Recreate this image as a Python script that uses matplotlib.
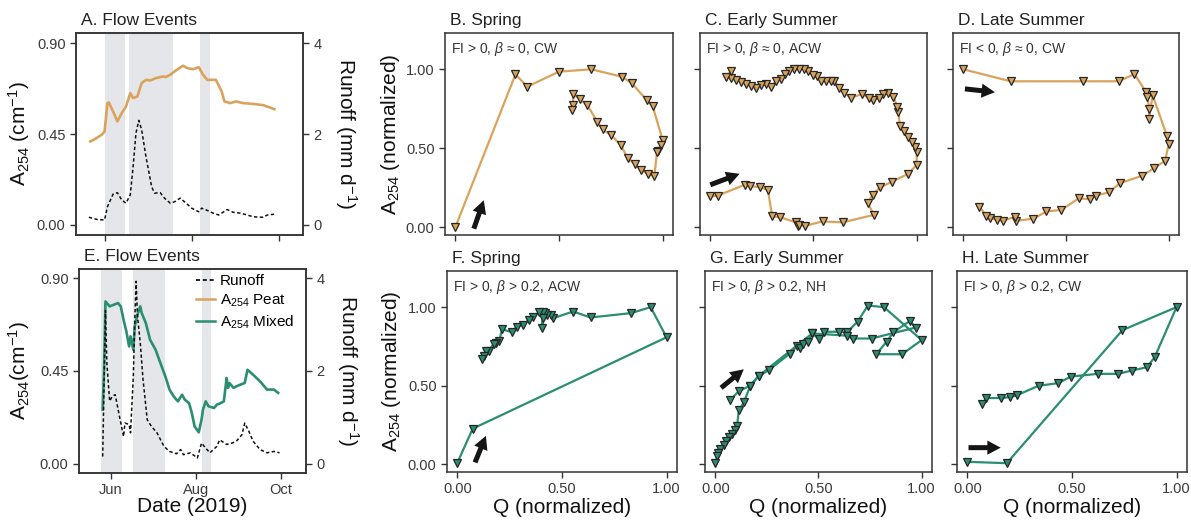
import matplotlib
matplotlib.use('Agg')
import matplotlib.pyplot as plt
import matplotlib.dates as mdates
from matplotlib.lines import Line2D
import pandas as pd

plt.rcParams['font.family'] = ['Liberation Sans', 'DejaVu Sans']
plt.rcParams['mathtext.fontset'] = 'custom'
plt.rcParams['mathtext.rm'] = 'Liberation Sans'
plt.rcParams['mathtext.it'] = 'Liberation Sans:italic'
plt.rcParams['mathtext.bf'] = 'Liberation Sans:bold'

PEAT = '#d9a35c'
MIXED = '#2a8e71'
SHADE = '#e4e6e9'
INK = '#333333'

# ---------------- Panel A (peat site) ----------------
a_peat_dates = ["2019-05-22", "2019-05-25", "2019-05-27", "2019-05-30", "2019-06-01", "2019-06-03",
                "2019-06-04", "2019-06-07", "2019-06-10", "2019-06-13", "2019-06-16", "2019-06-19",
                "2019-06-21", "2019-06-24", "2019-06-27", "2019-06-30", "2019-07-03", "2019-07-07",
                "2019-07-12", "2019-07-14", "2019-07-17", "2019-07-20", "2019-07-26", "2019-07-29",
                "2019-08-02", "2019-08-06", "2019-08-09", "2019-08-12", "2019-08-18", "2019-08-22",
                "2019-08-24", "2019-08-28", "2019-09-01", "2019-09-06", "2019-09-13", "2019-09-20",
                "2019-09-28"]
a_peat_vals = [0.413, 0.424, 0.433, 0.446, 0.462, 0.603, 0.606, 0.561, 0.512, 0.553, 0.586, 0.652,
               0.628, 0.636, 0.702, 0.718, 0.715, 0.727, 0.735, 0.732, 0.743, 0.760, 0.788, 0.776,
               0.771, 0.781, 0.743, 0.718, 0.718, 0.661, 0.611, 0.603, 0.611, 0.603, 0.599, 0.593,
               0.573]
a_runoff_dates = ["2019-05-21", "2019-05-27", "2019-06-01", "2019-06-03", "2019-06-07", "2019-06-10",
                  "2019-06-13", "2019-06-16", "2019-06-19", "2019-06-21", "2019-06-23", "2019-06-25",
                  "2019-06-27", "2019-06-30", "2019-07-04", "2019-07-06", "2019-07-10", "2019-07-13",
                  "2019-07-17", "2019-07-20", "2019-07-24", "2019-07-27", "2019-08-01", "2019-08-06",
                  "2019-08-08", "2019-08-12", "2019-08-16", "2019-08-20", "2019-08-26", "2019-08-30",
                  "2019-09-04", "2019-09-09", "2019-09-13", "2019-09-20", "2019-09-23", "2019-09-29"]
a_runoff_vals = [0.17, 0.12, 0.11, 0.40, 0.68, 0.71, 0.55, 0.48, 0.66, 1.28, 2.02, 2.30,
                 2.09, 1.50, 0.84, 0.70, 0.71, 0.59, 0.48, 0.51, 0.59, 0.51, 0.37, 0.29,
                 0.37, 0.32, 0.26, 0.22, 0.34, 0.28, 0.26, 0.22, 0.18, 0.17, 0.22, 0.24]
a_events = [("2019-06-01", "2019-06-15"), ("2019-06-18", "2019-07-19"), ("2019-08-07", "2019-08-14")]

# ---------------- Panel E (mixed site) ----------------
e_mixed_dates = ["2019-05-26", "2019-05-27", "2019-05-28", "2019-05-30", "2019-05-31", "2019-06-03",
                 "2019-06-06", "2019-06-08", "2019-06-10", "2019-06-12", "2019-06-14", "2019-06-15",
                 "2019-06-17", "2019-06-18", "2019-06-20", "2019-06-22", "2019-06-23", "2019-06-26",
                 "2019-06-29", "2019-07-03", "2019-07-06", "2019-07-10", "2019-07-13", "2019-07-16",
                 "2019-07-19", "2019-07-22", "2019-07-24", "2019-07-27", "2019-07-29", "2019-07-31",
                 "2019-08-03", "2019-08-05", "2019-08-06", "2019-08-08", "2019-08-10", "2019-08-14",
                 "2019-08-16", "2019-08-18", "2019-08-21", "2019-08-23", "2019-08-24", "2019-08-25",
                 "2019-08-28", "2019-08-30", "2019-09-02", "2019-09-05", "2019-09-07", "2019-09-11",
                 "2019-09-16", "2019-09-21", "2019-09-26", "2019-09-29"]
e_mixed_vals = [0.263, 0.456, 0.787, 0.771, 0.763, 0.771, 0.779, 0.763, 0.698, 0.642, 0.569, 0.618,
                0.553, 0.666, 0.723, 0.763, 0.731, 0.682, 0.602, 0.553, 0.497, 0.424, 0.360, 0.327,
                0.303, 0.335, 0.311, 0.295, 0.247, 0.182, 0.153, 0.215, 0.263, 0.303, 0.279, 0.271,
                0.287, 0.292, 0.303, 0.416, 0.368, 0.392, 0.368, 0.376, 0.384, 0.392, 0.456, 0.432,
                0.400, 0.360, 0.360, 0.344]
e_runoff_dates = ["2019-05-26", "2019-05-27", "2019-05-28", "2019-05-29", "2019-05-31", "2019-06-02",
                  "2019-06-04", "2019-06-07", "2019-06-10", "2019-06-11", "2019-06-14", "2019-06-15",
                  "2019-06-17", "2019-06-18", "2019-06-19", "2019-06-20", "2019-06-22", "2019-06-24",
                  "2019-06-27", "2019-06-30", "2019-07-04", "2019-07-09", "2019-07-13", "2019-07-18",
                  "2019-07-21", "2019-07-23", "2019-07-28", "2019-08-02", "2019-08-05", "2019-08-08",
                  "2019-08-11", "2019-08-16", "2019-08-18", "2019-08-23", "2019-08-27", "2019-08-30",
                  "2019-09-03", "2019-09-05", "2019-09-08", "2019-09-11", "2019-09-16", "2019-09-21",
                  "2019-09-26", "2019-09-30"]
e_runoff_vals = [0.16, 1.74, 3.30, 2.17, 1.35, 1.46, 1.49, 1.03, 0.59, 0.88, 0.85, 0.67,
                 1.89, 3.03, 3.93, 3.18, 2.60, 1.81, 0.95, 0.81, 0.67, 0.38, 0.27, 0.22,
                 0.31, 0.20, 0.24, 0.13, 0.45, 0.34, 0.24, 0.38, 0.52, 0.42, 0.45, 0.49,
                 0.63, 0.88, 0.70, 0.49, 0.31, 0.24, 0.27, 0.24]
e_events = [("2019-05-25", "2019-06-09"), ("2019-06-17", "2019-07-10"), ("2019-08-05", "2019-08-12")]

month_ticks = ["2019-06-01", "2019-08-01", "2019-10-01"]
month_labels = ["Jun", "Aug", "Oct"]
a254_ticks = [0.00, 0.45, 0.90]
runoff_ticks = [0, 2, 4]
norm_ticks = [0.00, 0.50, 1.00]

# ---------------- Hysteresis loops (normalized) ----------------
b_q = [0.0, 0.29, 0.347, 0.50, 0.656, 0.803, 0.852, 0.923, 0.952, 1.0, 0.99, 0.98, 0.973, 0.96,
       0.927, 0.895, 0.866, 0.831, 0.798, 0.753, 0.71, 0.685, 0.637, 0.60, 0.568, 0.568, 0.565]
b_a = [0.0, 0.968, 0.89, 0.985, 1.0, 0.953, 0.911, 0.805, 0.767, 0.551, 0.52, 0.485, 0.477, 0.324,
       0.339, 0.364, 0.40, 0.439, 0.519, 0.583, 0.619, 0.667, 0.773, 0.81, 0.843, 0.775, 0.74]

c_q = [0.0, 0.037, 0.166, 0.19, 0.24, 0.279, 0.3, 0.338, 0.415, 0.424, 0.43, 0.46, 0.544, 0.641,
       0.794, 0.762, 0.786, 0.823, 0.882, 0.96, 1.0, 1.0, 0.992, 0.976, 0.958, 0.939, 0.919, 0.911,
       0.907, 0.886, 0.863, 0.839, 0.815, 0.789, 0.767, 0.733, 0.681, 0.649, 0.625, 0.601, 0.585,
       0.56, 0.536, 0.515, 0.496, 0.472, 0.456, 0.432, 0.407, 0.383, 0.364, 0.343, 0.319, 0.295,
       0.27, 0.246, 0.222, 0.198, 0.174, 0.15, 0.126, 0.101, 0.077, 0.101]
c_a = [0.194, 0.2, 0.268, 0.26, 0.253, 0.236, 0.068, 0.063, 0.03, 0.004, 0.015, 0.008, 0.036, 0.03,
       0.078, 0.152, 0.205, 0.251, 0.289, 0.338, 0.395, 0.473, 0.51, 0.542, 0.57, 0.612, 0.641, 0.732,
       0.764, 0.827, 0.848, 0.844, 0.816, 0.806, 0.821, 0.842, 0.82, 0.85, 0.88, 0.928, 0.928,
       0.928, 0.924, 0.955, 0.964, 0.99, 1.005, 1.0, 1.0, 0.989, 0.968, 0.94, 0.926, 0.89,
       0.905, 0.90, 0.88, 0.897, 0.91, 0.92, 0.932, 0.943, 0.953, 0.989]

d_q = [0.0, 0.23, 0.583, 0.757, 0.833, 0.89, 0.895, 0.906, 0.903, 0.922, 0.992, 1.0, 0.982, 0.927,
       0.871, 0.761, 0.709, 0.644, 0.615, 0.563, 0.477, 0.405, 0.34, 0.259, 0.254, 0.194, 0.165,
       0.129, 0.113, 0.078]
d_a = [1.0, 0.924, 0.924, 0.924, 0.97, 0.855, 0.824, 0.75, 0.687, 0.834, 0.576, 0.525, 0.42, 0.372,
       0.326, 0.277, 0.22, 0.2, 0.176, 0.183, 0.109, 0.099, 0.053, 0.04, 0.067, 0.04, 0.046,
       0.057, 0.071, 0.13]

f_q = [0.0, 0.073, 1.0, 0.924, 0.832, 0.637, 0.553, 0.459, 0.445, 0.43, 0.42, 0.41, 0.404, 0.41,
       0.391, 0.363, 0.343, 0.314, 0.283, 0.259, 0.213, 0.2, 0.185, 0.173, 0.15, 0.136, 0.125, 0.116]
f_a = [0.01, 0.226, 0.808, 1.0, 0.962, 0.934, 0.972, 0.93, 0.95, 0.95, 0.96, 0.97, 0.867, 0.93,
       0.966, 0.94, 0.92, 0.888, 0.875, 0.84, 0.86, 0.782, 0.77, 0.767, 0.72, 0.718, 0.69, 0.67]

g_q = [0.073, 0.114, 0.17, 0.21, 0.259, 0.36, 0.396, 0.41, 0.425, 0.448, 0.47, 0.502, 0.526, 0.599,
       0.64, 0.69, 0.739, 0.817, 1.0, 0.905, 0.78, 0.83, 0.863, 0.943, 0.971, 0.757, 0.665, 0.637,
       0.47, 0.21, 0.17, 0.138, 0.114, 0.105, 0.095, 0.08, 0.065, 0.05, 0.04, 0.024, 0.015, 0.01, 0.0]
g_a = [0.41, 0.465, 0.50, 0.562, 0.598, 0.703, 0.751, 0.74, 0.765, 0.776, 0.833, 0.797, 0.843, 0.843,
       0.843, 0.908, 1.01, 1.0, 0.79, 0.70, 0.70, 0.78, 0.84, 0.912, 0.87, 0.80, 0.80, 0.818,
       0.833, 0.562, 0.50, 0.394, 0.342, 0.241, 0.22, 0.193, 0.17, 0.147, 0.12, 0.094, 0.07, 0.05, 0.01]

h_q = [0.0, 0.188, 0.741, 1.0, 0.895, 0.858, 0.785, 0.722, 0.623, 0.495, 0.434, 0.34, 0.235, 0.204,
       0.162, 0.091, 0.07]
h_a = [0.015, 0.006, 0.853, 1.0, 0.68, 0.617, 0.596, 0.575, 0.575, 0.558, 0.516, 0.499, 0.438, 0.427,
       0.421, 0.421, 0.385]

loops = {
    'B': dict(q=b_q, a=b_a, color=PEAT, title='B. Spring', note=r'FI > 0, $\beta$ ≈ 0, CW',
              arrow=((0.089, -0.01), (0.137, 0.17))),
    'C': dict(q=c_q, a=c_a, color=PEAT, title='C. Early Summer', note=r'FI > 0, $\beta$ ≈ 0, ACW',
              arrow=((0.0, 0.268), (0.142, 0.338))),
    'D': dict(q=d_q, a=d_a, color=PEAT, title='D. Late Summer', note=r'FI < 0, $\beta$ ≈ 0, CW',
              arrow=((0.008, 0.876), (0.154, 0.855))),
    'F': dict(q=f_q, a=f_a, color=MIXED, title='F. Spring', note=r'FI > 0, $\beta$ > 0.2, ACW',
              arrow=((0.084, 0.011), (0.136, 0.18))),
    'G': dict(q=g_q, a=g_a, color=MIXED, title='G. Early Summer', note=r'FI > 0, $\beta$ > 0.2, NH',
              arrow=((0.028, 0.486), (0.138, 0.604))),
    'H': dict(q=h_q, a=h_a, color=MIXED, title='H. Late Summer', note=r'FI > 0, $\beta$ > 0.2, CW',
              arrow=((0.005, 0.105), (0.159, 0.105))),
}

W, H = 1191, 527
fig = plt.figure(figsize=(W / 100, H / 100), dpi=100)


def rect(l, r, t, b):
    return [l / W, 1 - b / H, (r - l) / W, (b - t) / H]


def style(ax):
    for s in ax.spines.values():
        s.set_color(INK)
        s.set_linewidth(1.1)
    ax.tick_params(colors=INK, labelcolor='#3a3a3a', labelsize=10.5, length=4, width=1.0, direction='out')


def title(ax, txt):
    ax.text(0.02, 1.025, txt, transform=ax.transAxes, ha='left', va='bottom', fontsize=12.5, color='#222')


# ---- time-series panels ----
ts_specs = [
    ('A', rect(76, 303, 33, 235), a_peat_dates, a_peat_vals, PEAT, a_runoff_dates, a_runoff_vals,
     a_events, ("2019-05-12", "2019-10-18"), (-0.05, 0.95), (-0.22, 4.22), 'A. Flow Events',
     'A$_{254}$ (cm$^{-1}$)', -0.194, 1.132),
    ('E', rect(79, 306, 269, 473), e_mixed_dates, e_mixed_vals, MIXED, e_runoff_dates, e_runoff_vals,
     e_events, ("2019-05-09", "2019-10-19"), (-0.044, 0.944), (-0.194, 4.194), 'E. Flow Events',
     'A$_{254}$(cm$^{-1}$)', -0.207, 1.128),
]

for key, pos, dts, vals, col, rdts, rvals, events, xl, yl, yr, ttl, ylab, ylx, yrx in ts_specs:
    ax = fig.add_axes(pos)
    style(ax)
    for s, e in events:
        ax.axvspan(pd.Timestamp(s), pd.Timestamp(e), color=SHADE, lw=0, zorder=0)
    ax.plot(pd.to_datetime(dts), vals, color=col, lw=1.9, zorder=2)
    ax.set_xlim(pd.Timestamp(xl[0]), pd.Timestamp(xl[1]))
    ax.set_ylim(*yl)
    ax.set_yticks(a254_ticks)
    ax.set_yticklabels([f"{v:.2f}" for v in a254_ticks])
    ax.set_xticks(pd.to_datetime(month_ticks))
    if key == 'E':
        ax.set_xticklabels(month_labels)
        ax.set_xlabel('Date (2019)', fontsize=15, color='#111')
        ax.xaxis.set_label_coords(0.5, -0.118)
    else:
        ax.set_xticklabels([])
    ax.set_ylabel(ylab, fontsize=15, color='#111')
    ax.yaxis.set_label_coords(ylx, 0.5)
    title(ax, ttl)

    tw = ax.twinx()
    style(tw)
    tw.plot(pd.to_datetime(rdts), rvals, color='#111', lw=1.1, ls=(0, (2.2, 1.6)), zorder=3)
    tw.set_ylim(*yr)
    tw.set_yticks(runoff_ticks)
    tw.set_yticklabels([str(v) for v in runoff_ticks])
    tw.set_ylabel('Runoff (mm d$^{-1}$)', fontsize=15, color='#111', rotation=-90, va='bottom')
    tw.yaxis.set_label_coords(yrx, 0.5)
    tw.set_xlim(pd.Timestamp(xl[0]), pd.Timestamp(xl[1]))

    if key == 'E':
        handles = [Line2D([], [], color='#111', lw=1.3, ls=(0, (2.2, 1.6))),
                   Line2D([], [], color=PEAT, lw=1.8),
                   Line2D([], [], color=MIXED, lw=1.8)]
        tw.legend(handles, ['Runoff', 'A$_{254}$ Peat', 'A$_{254}$ Mixed'], loc='upper right',
                  bbox_to_anchor=(0.99, 1.02), frameon=False, fontsize=11, handlelength=1.3,
                  handletextpad=0.3, labelspacing=0.3, borderaxespad=0.2)

# ---- hysteresis panels ----
hyst_pos = {
    'B': rect(445, 673, 33, 235),
    'C': rect(700, 927, 33, 235),
    'D': rect(953, 1179, 33, 235),
    'F': rect(447, 677, 271, 472),
    'G': rect(705, 932, 271, 472),
    'H': rect(957, 1187, 271, 472),
}

for key, spec in loops.items():
    ax = fig.add_axes(hyst_pos[key])
    style(ax)
    ax.plot(spec['q'], spec['a'], color=spec['color'], lw=1.6, marker='v', ms=6.2,
            mfc=spec['color'], mec='#262626', mew=0.9, zorder=3, clip_on=False)
    ax.set_xlim(-0.05, 1.05)
    ax.set_ylim(-0.05, 1.23)
    ax.set_xticks(norm_ticks)
    ax.set_yticks(norm_ticks)
    if key in ('B', 'F'):
        ax.set_yticklabels([f"{v:.2f}" for v in norm_ticks])
        ax.set_ylabel('A$_{254}$ (normalized)', fontsize=15, color='#111')
        ax.yaxis.set_label_coords(-0.19, 0.5)
    else:
        ax.set_yticklabels([])
    if key in ('F', 'G', 'H'):
        ax.set_xticklabels([f"{v:.2f}" for v in norm_ticks])
        ax.set_xlabel('Q (normalized)', fontsize=15, color='#111')
        ax.xaxis.set_label_coords(0.5, -0.13)
    else:
        ax.set_xticklabels([])
    ax.text(0.025, 0.965, spec['note'], transform=ax.transAxes, ha='left', va='top',
            fontsize=10, color='#333')
    title(ax, spec['title'])
    tail, head = spec['arrow']
    ax.annotate('', xy=head, xytext=tail,
                arrowprops=dict(arrowstyle='simple,head_width=0.85,head_length=0.8,tail_width=0.3',
                                mutation_scale=12, fc='#151515', ec='none', shrinkA=0, shrinkB=0),
                zorder=5)

fig.savefig('out.png', dpi=100, facecolor='white')
